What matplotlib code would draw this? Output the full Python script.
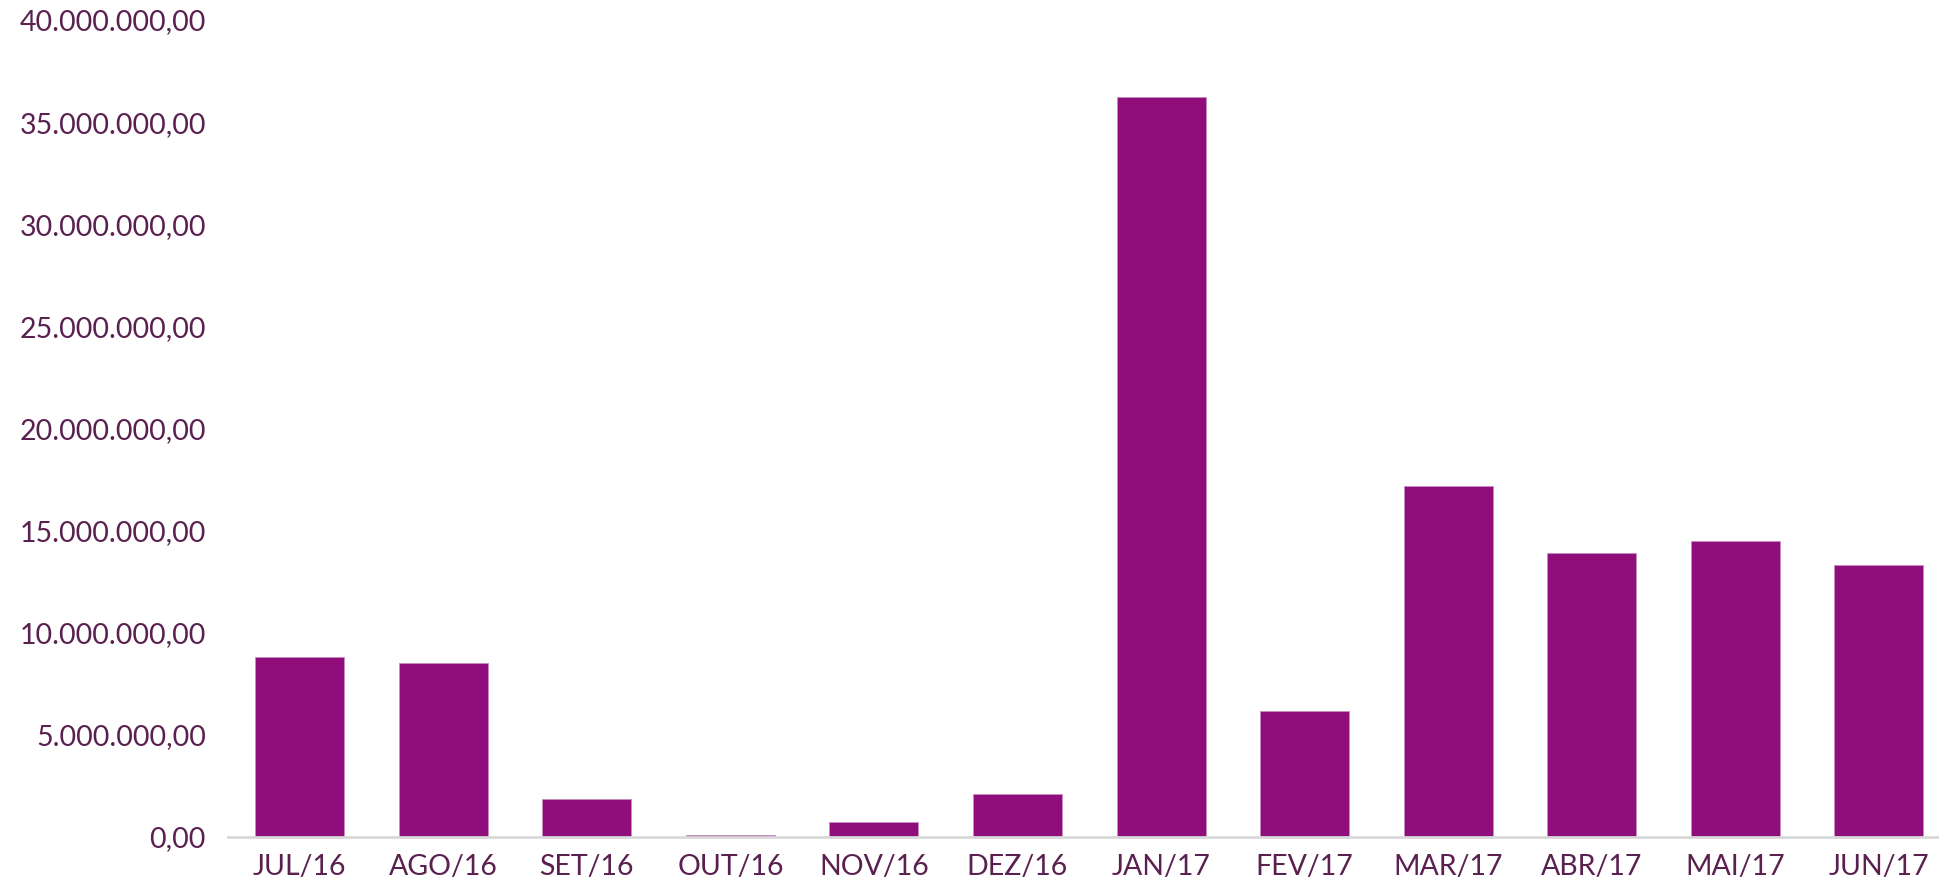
import numpy as np
import matplotlib
matplotlib.use('Agg')
import matplotlib.pyplot as plt
from matplotlib.ticker import FuncFormatter

meses = ['JUL/16', 'AGO/16', 'SET/16', 'OUT/16', 'NOV/16', 'DEZ/16',
         'JAN/17', 'FEV/17', 'MAR/17', 'ABR/17', 'MAI/17', 'JUN/17']
valores = [8830000, 8500000, 1860000, 100000, 720000, 2110000,
           36240000, 6170000, 17190000, 13890000, 14510000, 13300000]
yticks = [0, 5e6, 10e6, 15e6, 20e6, 25e6, 30e6, 35e6, 40e6]

cor_barra = '#8f0e7c'
cor_texto = '#5a2150'

plt.rcParams['font.family'] = ['Lato', 'DejaVu Sans']

def fmt_br(v, pos=None):
    s = '{:,.2f}'.format(v)
    return s.replace(',', 'X').replace('.', ',').replace('X', '.')

fig = plt.figure(figsize=(19.39, 8.86), dpi=100)
ax = fig.add_axes([228/1939, 49/886, 1 - 228/1939, 817/886])

x = np.arange(len(meses))
ax.bar(x, valores, width=0.62, color=cor_barra, edgecolor='#c98cc0', linewidth=0.6)

ax.set_xlim(-0.5, 11.42)
ax.set_ylim(0, 40e6)
ax.set_yticks(yticks)
ax.yaxis.set_major_formatter(FuncFormatter(fmt_br))
ax.set_xticks(x)
ax.set_xticklabels(meses)

for s in ['top', 'right', 'left']:
    ax.spines[s].set_visible(False)
ax.spines['bottom'].set_color('#d9d9d9')
ax.spines['bottom'].set_linewidth(2)

ax.tick_params(axis='y', length=0, pad=16, labelsize=20.5, labelcolor=cor_texto)
ax.tick_params(axis='x', length=0, pad=12, labelsize=20.5, labelcolor=cor_texto)
for lbl in ax.get_yticklabels():
    lbl.set_clip_on(False)

fig.savefig('out.png', dpi=100)
